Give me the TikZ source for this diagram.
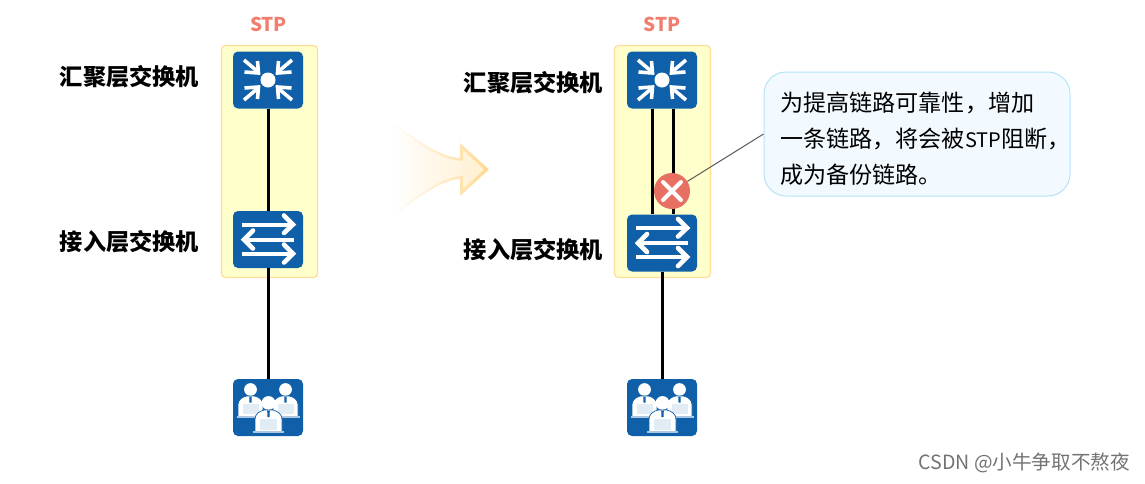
\documentclass[tikz,border=0pt]{standalone}
\usepackage{fontspec}
\setmainfont{Noto Sans CJK SC}
\definecolor{iconblue}{HTML}{0F5FA9}
\definecolor{panelfill}{HTML}{FFFFCC}
\definecolor{paneledge}{HTML}{FFDD99}
\definecolor{salmon}{HTML}{F07F70}
\definecolor{xred}{HTML}{E87063}
\definecolor{callfill}{HTML}{F3FAFF}
\definecolor{calledge}{HTML}{B5E3F8}
\tikzset{
  panelbox/.style={draw=paneledge,fill=panelfill,line width=1.2pt,rounded corners=4pt,minimum width=96pt,minimum height=232pt,inner sep=0pt},
  iconbox/.style={fill=iconblue,rounded corners=5pt,minimum width=70pt,minimum height=57pt,inner sep=0pt},
  link/.style={draw=black,line width=2.8pt},
  glyph/.style={draw=white,line width=4pt,line cap=butt,line join=miter},
  headlabel/.style={font=\bfseries\fontsize{19}{21}\selectfont,text=salmon,inner sep=0pt},
  layerlabel/.style={font=\bfseries\fontsize{23.2}{26}\selectfont,text=black,inner sep=0pt},
}
\newcommand{\aggglyph}[1]{%
  \begin{scope}[shift={(#1)}]
    \fill[white] (0,0) circle (7.5);
    \foreach \sx/\sy in {1/1,-1/1,1/-1,-1/-1}{
      \begin{scope}[xscale=\sx,yscale=\sy]
        \draw[glyph,line width=3.6pt] (-24,-20) -- (-11,-9);
        \draw[glyph,line width=3.6pt] (-23.5,-8) -- (-9.5,-7) -- (-10.5,-19);
      \end{scope}
    }
  \end{scope}}
\newcommand{\swglyph}[1]{%
  \begin{scope}[shift={(#1)}]
    \draw[glyph] (-26,-15) -- (24,-15);
    \draw[glyph,line width=4.6pt,line cap=round] (16,-24) -- (25,-15) -- (16,-6.5);
    \draw[glyph] (26,0) -- (-24,0);
    \draw[glyph,line width=4.6pt,line cap=round] (-15,-9) -- (-24,0) -- (-15,9);
    \draw[glyph] (-26,14) -- (24,14);
    \draw[glyph,line width=4.6pt,line cap=round] (16,5) -- (25,14) -- (16,23);
  \end{scope}}
\newcommand{\oneuser}[3]{%
  \begin{scope}[shift={(#1,#2)},scale=#3]
    \fill[white] (0,-13) circle (6.4);
    \fill[white,draw=iconblue,line width=.7pt] (-12.5,14) -- (-12.5,2) .. controls (-12.5,-3) and (-8,-5.5) .. (-4,-6.5) -- (4,-6.5) .. controls (8,-5.5) and (12.5,-3) .. (12.5,2) -- (12.5,14) -- cycle;
    \fill[iconblue] (-1.2,-6) -- (1.2,-6) -- (1,0) -- (-1,0) -- cycle;
    \fill[white!88!iconblue,draw=white,line width=.5pt] (-8.5,1) rectangle (8.5,12);
    \fill[white!65!iconblue] (-14,13) rectangle (14,15);
  \end{scope}}
\newcommand{\usersglyph}[1]{%
  \begin{scope}[shift={(#1)}]
    \oneuser{-17.5}{-5}{1}
    \oneuser{17.5}{-5}{1}
    \oneuser{0.5}{9.5}{1.08}
  \end{scope}}
\begin{document}
\begin{tikzpicture}[x=1pt,y=-1pt]
\useasboundingbox (0,0) rectangle (1145,483);
% fading arrow
\shade[left color=white,right color=paneledge!95!orange,shading angle=90] (390,120) .. controls (420,142) and (438,156) .. (460,158) -- (460,143) -- (489,169.5) -- (460,196) -- (460,178.5) .. controls (438,182) and (420,196) .. (390,219) -- cycle;
\shade[left color=white,right color=paneledge!45!white] (390,122) .. controls (420,145) and (438,159) .. (463,161) -- (463,150) -- (484,169.5) -- (463,189) -- (463,175.5) .. controls (438,179) and (420,193) .. (390,217) -- cycle;
% panels
\node[panelbox] (lp) at (269.5,161.5) {};
\node[panelbox] (rp) at (662.5,161.5) {};
\node[headlabel] (lstp) at (268.5,24) {STP};
\node[headlabel] (rstp) at (662,24) {STP};
% icons
\node[iconbox] (l1) at (268,80) {};
\node[iconbox] (l2) at (268,239.5) {};
\node[iconbox] (l3) at (268,407.5) {};
\node[iconbox] (r1) at (662,80) {};
\node[iconbox] (r2) at (662,243) {};
\node[iconbox] (r3) at (662,407.5) {};
% links
\draw[link] ([xshift=.5pt]l1.south) -- ([xshift=.5pt]l2.north);
\draw[link] ([xshift=.5pt]l2.south) -- ([xshift=.5pt]l3.north);
\draw[link] ([xshift=-9.5pt]r1.south) -- ([xshift=-9.5pt]r2.north);
\draw[link] ([xshift=11.5pt]r1.south) -- ([xshift=11.5pt]r2.north);
\draw[link] ([xshift=.5pt]r2.south) -- ([xshift=.5pt]r3.north);
% glyphs
\aggglyph{268,80}
\swglyph{268,239.5}
\usersglyph{268,407.5}
\aggglyph{662,80}
\swglyph{662,243}
\usersglyph{662,407.5}
% labels
\node[layerlabel] (la) at (129.5,77) {汇聚层交换机};
\node[layerlabel] (lb) at (129.5,241.5) {接入层交换机};
\node[layerlabel] (ra) at (533.5,83) {汇聚层交换机};
\node[layerlabel] (rb) at (533.5,249.5) {接入层交换机};
% callout
\node[draw=calledge,fill=callfill,line width=1pt,rounded corners=22pt,minimum width=306pt,minimum height=124pt,inner sep=0pt] (callout) at (917,134) {};
\node[circle,fill=xred,minimum size=36pt,inner sep=0pt] (xmark) at (672,191) {};
\draw[draw=black!65,line width=1pt] (xmark) -- (callout.west);
\draw[white,line width=4pt,line cap=round] ([xshift=-9pt,yshift=-9pt]xmark.center) -- ([xshift=9pt,yshift=9pt]xmark.center);
\draw[white,line width=4pt,line cap=round] ([xshift=-9pt,yshift=9pt]xmark.center) -- ([xshift=9pt,yshift=-9pt]xmark.center);
\node[anchor=west,inner sep=0pt,align=left,font=\fontsize{23.1}{36}\selectfont,text=black] (calltext) at (780,139) {为提高链路可靠性，增加\\一条链路，将会被{\fontsize{20}{36}\selectfont STP}阻断，\\成为备份链路。};
% watermark
\node[anchor=east,inner sep=0pt,font=\fontsize{19.6}{22}\selectfont,text=black!55] (mark) at (1130,463) {CSDN @小牛争取不熬夜};
\end{tikzpicture}
\end{document}
